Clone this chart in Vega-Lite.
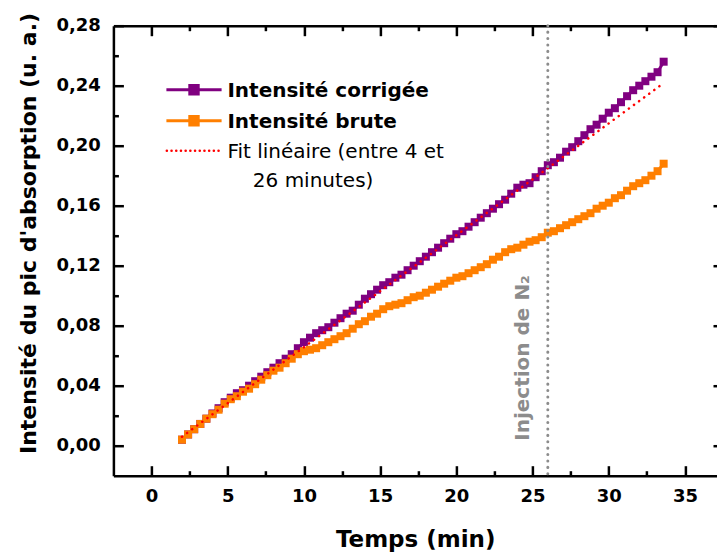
{
  "$schema": "https://vega.github.io/schema/vega-lite/v6.json",
  "width": 603.6,
  "height": 450,
  "autosize": {"type": "none"},
  "padding": {"left": 113.4, "top": 25.7, "right": 0, "bottom": 79.3},
  "background": "white",
  "config": {
    "view": {"stroke": null},
    "axis": {
      "labelFont": "DejaVu Sans", "labelFontWeight": "bold", "labelFontSize": 18, "labelColor": "#000",
      "titleFont": "DejaVu Sans", "titleFontWeight": "bold", "titleFontSize": 22, "titleColor": "#000",
      "domainColor": "#000", "domainWidth": 2.5, "tickColor": "#000", "tickWidth": 2.5, "grid": false
    }
  },
  "datasets": {
    "mesures": [
      {"t": 2.0, "c": 0.004, "b": 0.004}, {"t": 2.4, "c": 0.0075, "b": 0.0075}, {"t": 2.8, "c": 0.011, "b": 0.011},
      {"t": 3.2, "c": 0.0145, "b": 0.0145}, {"t": 3.6, "c": 0.018, "b": 0.018}, {"t": 4.0, "c": 0.0215, "b": 0.021},
      {"t": 4.4, "c": 0.025, "b": 0.024}, {"t": 4.8, "c": 0.029, "b": 0.028}, {"t": 5.2, "c": 0.032, "b": 0.031},
      {"t": 5.6, "c": 0.035, "b": 0.033}, {"t": 6.0, "c": 0.037, "b": 0.036}, {"t": 6.4, "c": 0.040, "b": 0.038},
      {"t": 6.8, "c": 0.043, "b": 0.041}, {"t": 7.2, "c": 0.046, "b": 0.044}, {"t": 7.6, "c": 0.049, "b": 0.047},
      {"t": 8.0, "c": 0.052, "b": 0.050}, {"t": 8.4, "c": 0.055, "b": 0.052}, {"t": 8.8, "c": 0.058, "b": 0.055},
      {"t": 9.2, "c": 0.061, "b": 0.058}, {"t": 9.6, "c": 0.065, "b": 0.061}, {"t": 10.0, "c": 0.069, "b": 0.063},
      {"t": 10.4, "c": 0.072, "b": 0.064}, {"t": 10.8, "c": 0.075, "b": 0.065}, {"t": 11.2, "c": 0.077, "b": 0.067},
      {"t": 11.6, "c": 0.079, "b": 0.069}, {"t": 12.0, "c": 0.082, "b": 0.071}, {"t": 12.4, "c": 0.085, "b": 0.073},
      {"t": 12.8, "c": 0.088, "b": 0.075}, {"t": 13.2, "c": 0.090, "b": 0.078}, {"t": 13.6, "c": 0.094, "b": 0.081},
      {"t": 14.0, "c": 0.098, "b": 0.083}, {"t": 14.4, "c": 0.101, "b": 0.086}, {"t": 14.8, "c": 0.104, "b": 0.088},
      {"t": 15.2, "c": 0.107, "b": 0.091}, {"t": 15.6, "c": 0.109, "b": 0.093}, {"t": 16.0, "c": 0.112, "b": 0.094},
      {"t": 16.4, "c": 0.114, "b": 0.095}, {"t": 16.8, "c": 0.117, "b": 0.097}, {"t": 17.2, "c": 0.120, "b": 0.099},
      {"t": 17.6, "c": 0.123, "b": 0.100}, {"t": 18.0, "c": 0.126, "b": 0.102}, {"t": 18.4, "c": 0.129, "b": 0.104},
      {"t": 18.8, "c": 0.132, "b": 0.106}, {"t": 19.2, "c": 0.135, "b": 0.108}, {"t": 19.6, "c": 0.138, "b": 0.110},
      {"t": 20.0, "c": 0.141, "b": 0.112}, {"t": 20.4, "c": 0.143, "b": 0.113}, {"t": 20.8, "c": 0.146, "b": 0.115},
      {"t": 21.2, "c": 0.149, "b": 0.117}, {"t": 21.6, "c": 0.152, "b": 0.119}, {"t": 22.0, "c": 0.155, "b": 0.121},
      {"t": 22.4, "c": 0.158, "b": 0.124}, {"t": 22.8, "c": 0.161, "b": 0.126}, {"t": 23.2, "c": 0.164, "b": 0.129},
      {"t": 23.6, "c": 0.168, "b": 0.131}, {"t": 24.0, "c": 0.172, "b": 0.132}, {"t": 24.4, "c": 0.174, "b": 0.134},
      {"t": 24.8, "c": 0.175, "b": 0.136}, {"t": 25.2, "c": 0.179, "b": 0.137}, {"t": 25.6, "c": 0.183, "b": 0.139},
      {"t": 26.0, "c": 0.187, "b": 0.142}, {"t": 26.4, "c": 0.189, "b": 0.143}, {"t": 26.8, "c": 0.192, "b": 0.145},
      {"t": 27.2, "c": 0.196, "b": 0.147}, {"t": 27.6, "c": 0.199, "b": 0.149}, {"t": 28.0, "c": 0.203, "b": 0.151},
      {"t": 28.4, "c": 0.207, "b": 0.153}, {"t": 28.8, "c": 0.211, "b": 0.155}, {"t": 29.2, "c": 0.214, "b": 0.158},
      {"t": 29.6, "c": 0.218, "b": 0.160}, {"t": 30.0, "c": 0.222, "b": 0.162}, {"t": 30.4, "c": 0.225, "b": 0.165},
      {"t": 30.8, "c": 0.229, "b": 0.167}, {"t": 31.2, "c": 0.233, "b": 0.170}, {"t": 31.6, "c": 0.237, "b": 0.173},
      {"t": 32.0, "c": 0.240, "b": 0.175}, {"t": 32.4, "c": 0.243, "b": 0.177}, {"t": 32.8, "c": 0.246, "b": 0.180},
      {"t": 33.2, "c": 0.249, "b": 0.183}, {"t": 33.6, "c": 0.256, "b": 0.188}
    ],
    "fit": [
      {"t": 2.0, "y": 0.006},
      {"t": 33.5, "y": 0.241}
    ],
    "injection": [
      {"t": 26, "label": "Injection de N₂"}
    ]
  },
  "resolve": {"axis": {"x": "independent", "y": "independent"}},
  "layer": [
    {
      "data": {"name": "mesures"},
      "mark": {"type": "line", "strokeWidth": 3, "point": {"shape": "square", "size": 64, "filled": true, "opacity": 1}},
      "encoding": {
        "x": {"field": "t", "type": "quantitative",
          "scale": {"domain": [-2.5, 37.1], "nice": false, "zero": false},
          "axis": {"orient": "bottom", "values": [0, 5, 10, 15, 20, 25, 30, 35], "format": "d", "tickSize": -10, "labelPadding": 22,
            "title": "Temps (min)", "titleY": 64, "titleBaseline": "middle", "titleFontSize": 23}},
        "y": {"field": "c", "type": "quantitative",
          "scale": {"domain": [-0.02, 0.28], "nice": false, "zero": false},
          "axis": {"orient": "left", "values": [0, 0.04, 0.08, 0.12, 0.16, 0.2, 0.24, 0.28],
            "labelExpr": "replace(format(datum.value, '.2f'), '.', ',')", "tickSize": -10, "labelPadding": 23,
            "title": "Intensité du pic d'absorption (u. a.)", "titleX": -85.4, "titleY": 207.3, "titleAngle": 270,
            "titleAlign": "center", "titleBaseline": "middle"}},
        "color": {"datum": "Intensité corrigée", "type": "nominal",
          "scale": {"domain": ["Intensité corrigée", "Intensité brute", "Fit linéaire (entre 4 et 26 minutes)"],
                    "range": ["#800080", "#ff7f00", "#ff0000"]},
          "legend": {
            "orient": "none", "legendX": 70.6, "legendY": 54, "title": null, "padding": 0,
            "symbolSize": 64, "labelFont": "DejaVu Sans", "labelFontSize": 20, "labelColor": "#000",
            "labelOffset": 23.4, "rowPadding": 9, "labelBaseline": "alphabetic", "labelLimit": 400,
            "labelExpr": "datum.label == 'Fit linéaire (entre 4 et 26 minutes)' ? ['Fit linéaire (entre 4 et', '\u200b\u00a0\u00a0\u00a0\u00a026 minutes)'] : datum.label",
            "encode": {
              "symbols": {"update": {
                "shape": {"signal": "datum.value == 'Fit linéaire (entre 4 et 26 minutes)' ? 'M-6.8,0H6.8' : 'M-6.9,0H6.9M-1.05,-1.05H1.05V1.05H-1.05Z'"},
                "fill": {"signal": "datum.value == 'Fit linéaire (entre 4 et 26 minutes)' ? 'transparent' : scale('color', datum.value)"},
                "stroke": {"signal": "scale('color', datum.value)"},
                "strokeWidth": {"signal": "datum.value == 'Fit linéaire (entre 4 et 26 minutes)' ? 2.5 : 3"},
                "strokeDash": {"signal": "datum.value == 'Fit linéaire (entre 4 et 26 minutes)' ? [0.1, 4.6] : [1, 0]"},
                "strokeCap": {"signal": "datum.value == 'Fit linéaire (entre 4 et 26 minutes)' ? 'round' : 'butt'"},
                "opacity": {"value": 1}
              }},
              "labels": {"update": {
                "fontWeight": {"signal": "datum.value == 'Fit linéaire (entre 4 et 26 minutes)' ? 'normal' : 'bold'"},
                "dy": {"value": 7},
                "lineHeight": {"value": 29}
              }}
            }
          }}
      }
    },
    {
      "data": {"name": "mesures"},
      "mark": {"type": "line", "strokeWidth": 3, "point": {"shape": "square", "size": 64, "filled": true, "opacity": 1}},
      "encoding": {
        "x": {"field": "t", "type": "quantitative",
          "axis": {"orient": "top", "values": [0, 5, 10, 15, 20, 25, 30, 35], "labels": false, "tickSize": -10, "title": null}},
        "y": {"field": "b", "type": "quantitative",
          "axis": {"orient": "right", "values": [0, 0.04, 0.08, 0.12, 0.16, 0.2, 0.24, 0.28], "labels": false, "tickSize": -10, "title": null, "offset": 6}},
        "color": {"datum": "Intensité brute", "type": "nominal"}
      }
    },
    {
      "data": {"name": "fit"},
      "mark": {"type": "line", "strokeWidth": 2.5, "strokeDash": [0.1, 6.2], "strokeCap": "round"},
      "encoding": {
        "x": {"field": "t", "type": "quantitative",
          "axis": {"orient": "bottom", "values": [2.5, 7.5, 12.5, 17.5, 22.5, 27.5, 32.5], "labels": false, "domain": false, "tickSize": -5, "title": null}},
        "y": {"field": "y", "type": "quantitative",
          "axis": {"orient": "left", "values": [0.02, 0.06, 0.1, 0.14, 0.18, 0.22, 0.26], "labels": false, "domain": false, "tickSize": -5, "title": null}},
        "color": {"datum": "Fit linéaire (entre 4 et 26 minutes)", "type": "nominal"}
      }
    },
    {
      "data": {"name": "injection"},
      "mark": {"type": "rule", "color": "#8c8c8c", "strokeWidth": 3, "strokeDash": [0.1, 6.3], "strokeCap": "round"},
      "encoding": {
        "x": {"field": "t", "type": "quantitative",
          "axis": {"orient": "top", "values": [2.5, 7.5, 12.5, 17.5, 22.5, 27.5, 32.5], "labels": false, "domain": false, "tickSize": -5, "title": null}},
        "y": {"datum": 0.28, "type": "quantitative",
          "axis": {"orient": "right", "values": [0.02, 0.06, 0.1, 0.14, 0.18, 0.22, 0.26], "labels": false, "domain": false, "tickSize": -5, "title": null, "offset": 6}},
        "y2": {"datum": -0.02}
      }
    },
    {
      "data": {"name": "injection"},
      "mark": {"type": "text", "angle": 270, "align": "center", "baseline": "middle", "dy": -25, "font": "DejaVu Sans", "fontWeight": "bold", "fontSize": 20, "color": "#8c8c8c"},
      "encoding": {
        "x": {"field": "t", "type": "quantitative", "axis": null},
        "y": {"datum": 0.0585, "type": "quantitative", "axis": null},
        "text": {"field": "label"}
      }
    }
  ]
}
